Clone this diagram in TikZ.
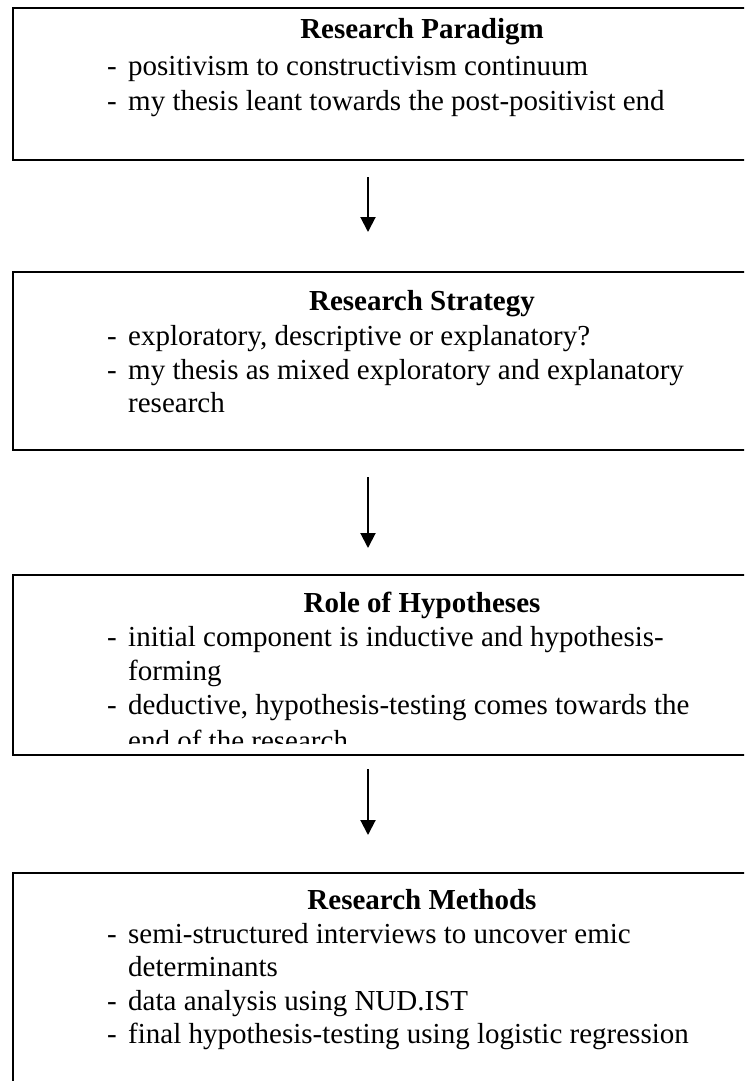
\documentclass[tikz,border=0pt]{standalone}
\usepackage{fontspec}
\setmainfont{Liberation Serif}
\usetikzlibrary{arrows.meta}
\begin{document}
\begin{tikzpicture}[x=1pt,y=-1pt,
  boxline/.style={draw=black, line width=2pt},
  ttl/.style={font=\bfseries\fontsize{29}{34}\selectfont, anchor=base, inner sep=0pt},
  ln/.style={font=\fontsize{29}{34}\selectfont, anchor=base west, inner sep=0pt},
  arr/.style={draw=black, line width=2pt, -{Triangle[width=15pt,length=15pt]}}]
\useasboundingbox (0,0) rectangle (744,1081);
\clip (0,0) rectangle (744,1081);
\newcommand{\dashit}{\makebox[21pt][l]{-}}
% boxes
\node[boxline, minimum width=820pt, minimum height=152pt, anchor=north west, inner sep=0pt] (b1) at (12,7) {};
\node[boxline, minimum width=820pt, minimum height=178pt, anchor=north west, inner sep=0pt] (b2) at (12,271) {};
\node[boxline, minimum width=820pt, minimum height=180pt, anchor=north west, inner sep=0pt] (b3) at (12,574) {};
\node[boxline, minimum width=820pt, minimum height=260pt, anchor=north west, inner sep=0pt] (b4) at (12,872) {};
% box 1 text
\node[ttl] (t1) at (422,38) {Research Paradigm};
\node[ln] (t1a) at (107,75) {\dashit positivism to constructivism continuum};
\node[ln] (t1b) at (107,110) {\dashit my thesis leant towards the post-positivist end};
% box 2 text
\node[ttl] (t2) at (422,310) {Research Strategy};
\node[ln] (t2a) at (107,345) {\dashit exploratory, descriptive or explanatory?};
\node[ln] (t2b) at (107,379) {\dashit my thesis as mixed exploratory and explanatory};
\node[ln] (t2c) at (128,412) {research};
% box 3 text (clipped)
\begin{scope}
\clip (13,575) rectangle (832,743);
\node[ttl] (t3) at (422,612) {Role of Hypotheses};
\node[ln] (t3a) at (107,646) {\dashit initial component is inductive and hypothesis-};
\node[ln] (t3b) at (128,680) {forming};
\node[ln] (t3c) at (107,714) {\dashit deductive, hypothesis-testing comes towards the};
\node[ln] (t3d) at (128,750) {end of the research};
\end{scope}
% box 4 text
\node[ttl] (t4) at (422,909) {Research Methods};
\node[ln] (t4a) at (107,943) {\dashit semi-structured interviews to uncover emic};
\node[ln] (t4b) at (128,976) {determinants};
\node[ln] (t4c) at (107,1010) {\dashit data analysis using NUD.IST};
\node[ln] (t4d) at (107,1043) {\dashit final hypothesis-testing using logistic regression};
% arrows
\coordinate (a1s) at (368,177);
\coordinate (a1e) at (368,232);
\coordinate (a2s) at (368,477);
\coordinate (a2e) at (368,548);
\coordinate (a3s) at (368,769);
\coordinate (a3e) at (368,835);
\draw[arr] (a1s) -- (a1e);
\draw[arr] (a2s) -- (a2e);
\draw[arr] (a3s) -- (a3e);
\end{tikzpicture}
\end{document}
